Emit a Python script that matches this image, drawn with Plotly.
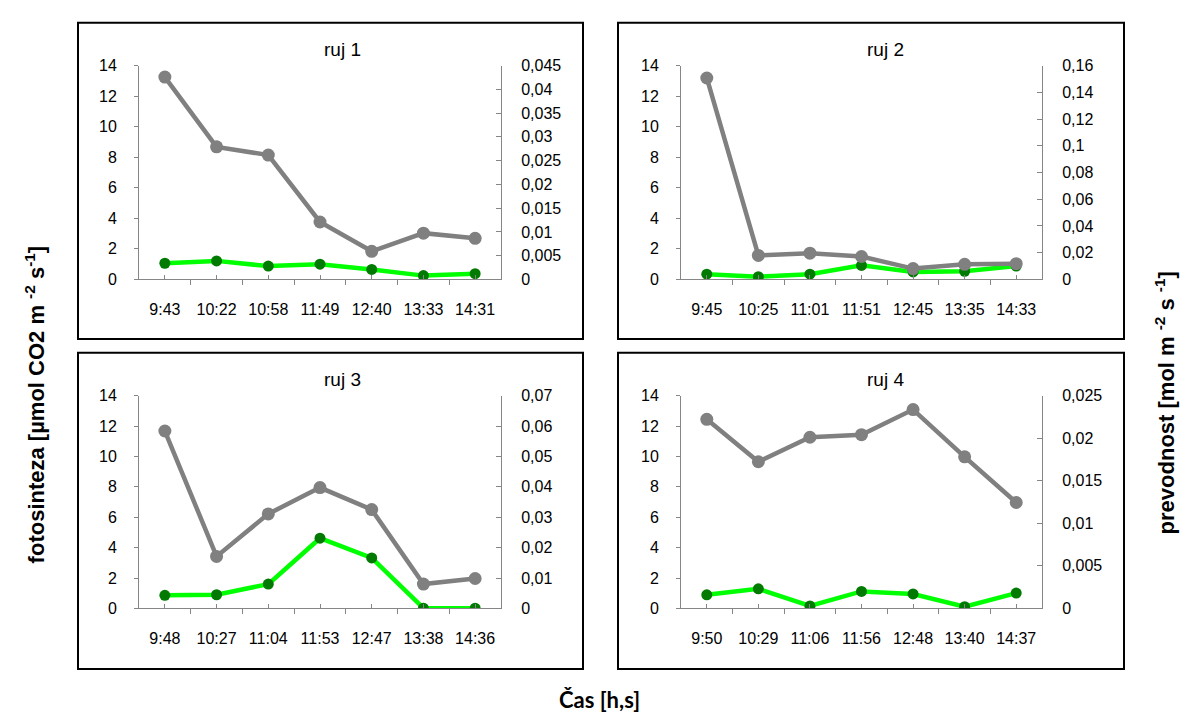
import plotly.graph_objects as go

# --- measured data: four measurement days (ruj 1..4) ---
cas_1 = ["9:43", "10:22", "10:58", "11:49", "12:40", "13:33", "14:31"]
fotosinteza_1 = [13.25, 8.68, 8.14, 3.76, 1.84, 3.03, 2.69]
prevodnost_1 = [0.0034, 0.0039, 0.0028, 0.0032, 0.0021, 0.0008, 0.0012]

cas_2 = ["9:45", "10:25", "11:01", "11:51", "12:45", "13:35", "14:33"]
fotosinteza_2 = [13.19, 1.57, 1.72, 1.50, 0.71, 0.99, 1.03]
prevodnost_2 = [0.0039, 0.0020, 0.0039, 0.0105, 0.0056, 0.0061, 0.0100]

cas_3 = ["9:48", "10:27", "11:04", "11:53", "12:47", "13:38", "14:36"]
fotosinteza_3 = [11.67, 3.42, 6.22, 7.95, 6.50, 1.60, 1.97]
prevodnost_3 = [0.0043, 0.0045, 0.0080, 0.0231, 0.0166, 0.0001, 0.0001]

cas_4 = ["9:50", "10:29", "11:06", "11:56", "12:48", "13:40", "14:37"]
fotosinteza_4 = [12.44, 9.65, 11.26, 11.43, 13.08, 9.97, 6.97]
prevodnost_4 = [0.0016, 0.0023, 0.0003, 0.0020, 0.0017, 0.0002, 0.0018]

nazvy = ["ruj 1", "ruj 2", "ruj 3", "ruj 4"]
casy = [cas_1, cas_2, cas_3, cas_4]
fotosinteze = [fotosinteza_1, fotosinteza_2, fotosinteza_3, fotosinteza_4]
prevodnosti = [prevodnost_1, prevodnost_2, prevodnost_3, prevodnost_4]

# right-axis scale per panel (max, step)
prav_os = [(0.045, 0.005), (0.16, 0.02), (0.07, 0.01), (0.025, 0.005)]

# --- page geometry in pixels ---
W, H = 1187, 718
def fx(x):
    return x / W
def fy(y):
    return 1 - y / H

# plot areas (left, right, top, bottom) and outer frames
plot_px = [(139, 501, 59, 278), (681, 1042, 59, 278),
           (139, 501, 397, 615), (681, 1042, 397, 615)]
frame_px = [(78, 583, 15, 339), (618, 1124, 15, 339),
            (78, 583, 353, 677), (618, 1124, 353, 677)]
title_px = [(342, 43), (885, 43), (342, 381), (885, 381)]

GRAY = "#808080"
LIME = "#00FF00"
DKGREEN = "#007A00"
AXC = "#868686"
FONT = "Liberation Sans, Arial, sans-serif"
TICK = 16

fig = go.Figure()
layout = dict(
    width=W, height=H,
    margin=dict(l=0, r=0, t=0, b=0),
    paper_bgcolor="white", plot_bgcolor="rgba(0,0,0,0)",
    showlegend=False,
    separators=", ",
    font=dict(family=FONT, size=TICK, color="black"),
    shapes=[], annotations=[],
)

def ykey(n):
    return "yaxis" if n == 1 else f"yaxis{n}"
def yname(n):
    return "y" if n == 1 else f"y{n}"

for i in range(4):
    p = i + 1
    xk = "xaxis" if p == 1 else f"xaxis{p}"
    xn = "x" if p == 1 else f"x{p}"
    base = 2 * i + 1   # right axis (conductance)
    over = 2 * i + 2   # left axis (photosynthesis), drawn on top
    l, r, t, b = plot_px[i]
    n = len(casy[i])
    idx = list(range(n))

    layout[xk] = dict(
        domain=[fx(l), fx(r)], anchor=yname(base),
        range=[-0.5, n - 0.5],
        tickmode="array", tickvals=idx, ticktext=casy[i],
        ticks="inside", ticklen=4, tickcolor=AXC,
        minor=dict(tickmode="array", tickvals=[k - 0.5 for k in range(n + 1)],
                   ticks="outside", ticklen=5, tickcolor=AXC),
        showline=True, linecolor=AXC, linewidth=1,
        showgrid=False, zeroline=False, fixedrange=True,
        ticklabelstandoff=15,
        tickfont=dict(family=FONT, size=TICK),
    )
    rmax, rstep = prav_os[i]
    layout[ykey(base)] = dict(
        domain=[fy(b), fy(t)], anchor=xn, side="right",
        range=[0, rmax], tick0=0, dtick=rstep,
        ticks="inside", ticklen=5, tickcolor=AXC,
        showline=True, linecolor=AXC, linewidth=1,
        showgrid=False, zeroline=False,
        ticklabelstandoff=16, tickfont=dict(family=FONT, size=TICK),
    )
    layout[ykey(over)] = dict(
        overlaying=yname(base), anchor=xn, side="left",
        range=[0, 14], tick0=0, dtick=2,
        ticks="outside", ticklen=4, tickcolor=AXC,
        showline=True, linecolor=AXC, linewidth=1,
        showgrid=False, zeroline=False,
        ticklabelstandoff=14, tickfont=dict(family=FONT, size=TICK),
    )

    fig.add_trace(go.Scatter(
        x=idx, y=prevodnosti[i], xaxis=xn, yaxis=yname(base),
        mode="lines+markers",
        line=dict(color=LIME, width=4.5),
        marker=dict(color=DKGREEN, size=11),
        hoverinfo="skip",
    ))
    fig.add_trace(go.Scatter(
        x=idx, y=fotosinteze[i], xaxis=xn, yaxis=yname(over),
        mode="lines+markers",
        line=dict(color=GRAY, width=4.5),
        marker=dict(color=GRAY, size=13),
        hoverinfo="skip",
    ))

    fl, fr, ft, fb = frame_px[i]
    layout["shapes"].append(dict(
        type="rect", xref="paper", yref="paper",
        x0=fx(fl), x1=fx(fr), y0=fy(fb), y1=fy(ft),
        line=dict(color="black", width=2), fillcolor="rgba(0,0,0,0)",
        layer="below",
    ))
    tx, ty = title_px[i]
    layout["annotations"].append(dict(
        text=nazvy[i], xref="paper", yref="paper",
        x=fx(tx), y=fy(ty), xanchor="center", yanchor="middle",
        showarrow=False, font=dict(size=19, family=FONT),
    ))

# shared axis titles
layout["annotations"].append(dict(
    text="fotosinteza [µmol CO2 m <sup>-2</sup> s<sup>-1</sup>]",
    xref="paper", yref="paper", x=fx(35), y=fy(406),
    xanchor="center", yanchor="middle", textangle=-90, showarrow=False,
    font=dict(size=22, family=FONT, weight="bold"),
))
layout["annotations"].append(dict(
    text="prevodnost [mol m <sup>-2</sup> s <sup>-1</sup>]",
    xref="paper", yref="paper", x=fx(1165), y=fy(405),
    xanchor="center", yanchor="middle", textangle=-90, showarrow=False,
    font=dict(size=22, family=FONT, weight="bold"),
))
layout["annotations"].append(dict(
    text="Čas [h,s]", xref="paper", yref="paper", x=fx(600), y=fy(708),
    xanchor="center", yanchor="middle", showarrow=False,
    font=dict(size=22, family="Lato, Open Sans, sans-serif", weight="bold"),
))

fig.update_layout(**layout)
fig.write_html("out.html")
